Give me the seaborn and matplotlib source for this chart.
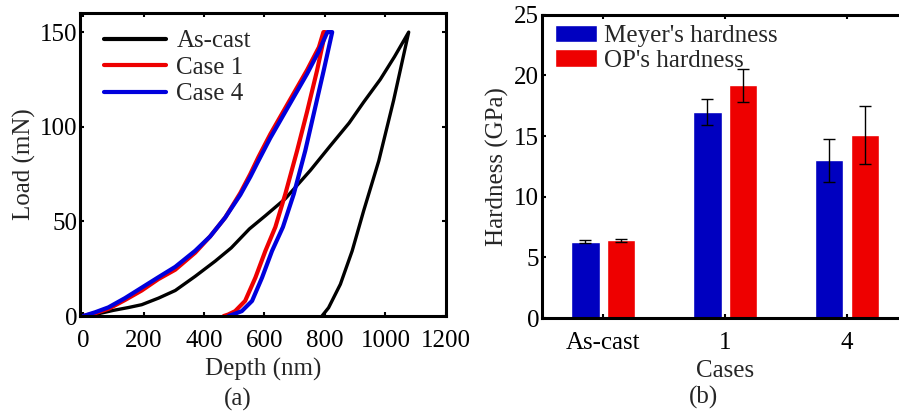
import matplotlib
matplotlib.use("Agg")
import matplotlib.pyplot as plt
import seaborn as sns
import pandas as pd
import numpy as np

# ---------------- data: panel (a) load-depth curves ----------------
ascast_depth = [0, 50, 100, 150, 194, 250, 305, 371, 437, 490, 550, 603, 669, 752, 818, 880, 928, 983, 1030, 1077,
                1027, 978, 928, 890, 851, 812, 790]
ascast_load = [0, 1.2, 3.0, 4.5, 6.0, 9.5, 13.5, 21, 29, 36, 46, 53, 62, 77, 90, 102, 113, 125, 137, 150,
               113.9, 82, 55.6, 34.4, 16.8, 4.4, 0]

case1_depth = [0, 40, 84, 139, 194, 249, 305, 371, 420, 470, 520, 553, 580, 619, 680, 741, 780, 795, 801,
               774, 741, 708, 669, 636, 603, 570, 536, 503, 480, 465]
case1_load = [0, 1.5, 3.8, 8.5, 13.5, 19.5, 24.5, 33.5, 42, 52, 65, 75, 84, 96, 113, 130, 142, 150, 150,
              129.8, 108, 87.4, 64.5, 47, 34.4, 20.3, 8, 2.6, 0.8, 0]

case4_depth = [0, 40, 84, 139, 194, 249, 305, 371, 420, 470, 520, 553, 580, 619, 680, 741, 780, 808, 824,
               796, 735, 697, 661, 625, 592, 559, 525, 495, 481]
case4_load = [0, 2.0, 4.6, 9.5, 15, 20.5, 26, 34.5, 42, 52, 64, 73.5, 82, 94, 111, 128, 140, 150, 150,
              129.8, 87.4, 64.5, 47, 34.4, 20.3, 8, 2.6, 0.8, 0]

curve_names = ["As-cast", "Case 1", "Case 4"]
curve_colors = ["#000000", "#ee0000", "#0000dd"]

# ---------------- data: panel (b) hardness ----------------
cases = ["As-cast", "1", "4"]
meyer = [6.3, 17.0, 13.0]
meyer_err = [0.1, 1.05, 1.75]
op = [6.4, 19.2, 15.1]
op_err = [0.1, 1.35, 2.4]
bar_names = ["Meyer's hardness", "OP's hardness"]
bar_colors = ["#0000c0", "#ee0000"]

sns.set_theme(style="white")
plt.rcParams["font.family"] = ["Liberation Serif", "DejaVu Serif"]
FS = 18

fig = plt.figure(figsize=(8.99, 4.11), dpi=100)
ax1 = fig.add_axes([0.089, 0.231, 0.407, 0.737])
ax2 = fig.add_axes([0.603, 0.226, 0.407, 0.738])

# panel (a)
for name, d, l, c in zip(curve_names, [ascast_depth, case1_depth, case4_depth],
                         [ascast_load, case1_load, case4_load], curve_colors):
    sns.lineplot(x=d, y=l, sort=False, estimator=None, ax=ax1, color=c,
                 lw=2.4 if name == "As-cast" else 3.0, label=name)
ax1.set_xlim(-10, 1200)
ax1.set_ylim(0, 160)
ax1.set_xticks([0, 200, 400, 600, 800, 1000, 1200])
ax1.set_yticks([0, 50, 100, 150])
ax1.set_xlabel("Depth (nm)", fontsize=FS, labelpad=4)
ax1.set_ylabel("Load (mN)", fontsize=FS, labelpad=3)
leg1 = ax1.legend(loc="upper left", frameon=False, fontsize=FS, handlelength=2.5,
                  handletextpad=0.4, labelspacing=0.16, borderaxespad=0.0,
                  borderpad=0.0, bbox_to_anchor=(0.065, 0.945))
for h in leg1.get_lines():
    h.set_linewidth(3.0)
fig.text(0.264, 0.027, "(a)", fontsize=FS, ha="center", va="center")

# panel (b)
df = pd.DataFrame({
    "Cases": cases * 2,
    "Hardness": meyer + op,
    "Type": [bar_names[0]] * 3 + [bar_names[1]] * 3,
})
sns.barplot(data=df, x="Cases", y="Hardness", hue="Type", palette=bar_colors,
            width=0.58, gap=0.2, ax=ax2, saturation=1, errorbar=None)
errs = meyer_err + op_err
bars = [p for p in ax2.patches if p.get_height() > 0][:6]
for p, e in zip(bars, errs):
    ax2.errorbar(p.get_x() + p.get_width() / 2, p.get_height(), yerr=e,
                 color="black", capsize=4.5, elinewidth=1.0, capthick=1.0, fmt="none")
ax2.set_xlim(-0.5, 2.5)
ax2.set_ylim(0, 25)
ax2.set_yticks([0, 5, 10, 15, 20, 25])
ax2.set_xlabel("Cases", fontsize=FS, labelpad=4)
ax2.set_ylabel("Hardness (GPa)", fontsize=FS, labelpad=4)
ax2.legend(loc="upper left", frameon=False, fontsize=FS, handlelength=1.7,
           handleheight=0.72, handletextpad=0.25, labelspacing=0.08,
           borderaxespad=0.0, borderpad=0.0, bbox_to_anchor=(0.035, 0.968))
fig.text(0.783, 0.034, "(b)", fontsize=FS, ha="center", va="center")

for ax in (ax1, ax2):
    for s in ax.spines.values():
        s.set_linewidth(2.2)
        s.set_color("black")
    ax.tick_params(direction="in", length=3, width=1.5, labelsize=FS, colors="black",
                   top=True, right=True, bottom=True, left=True)
    ax.tick_params(axis="x", pad=10)
    ax.tick_params(axis="y", pad=2)

fig.savefig("out.png", dpi=100)
